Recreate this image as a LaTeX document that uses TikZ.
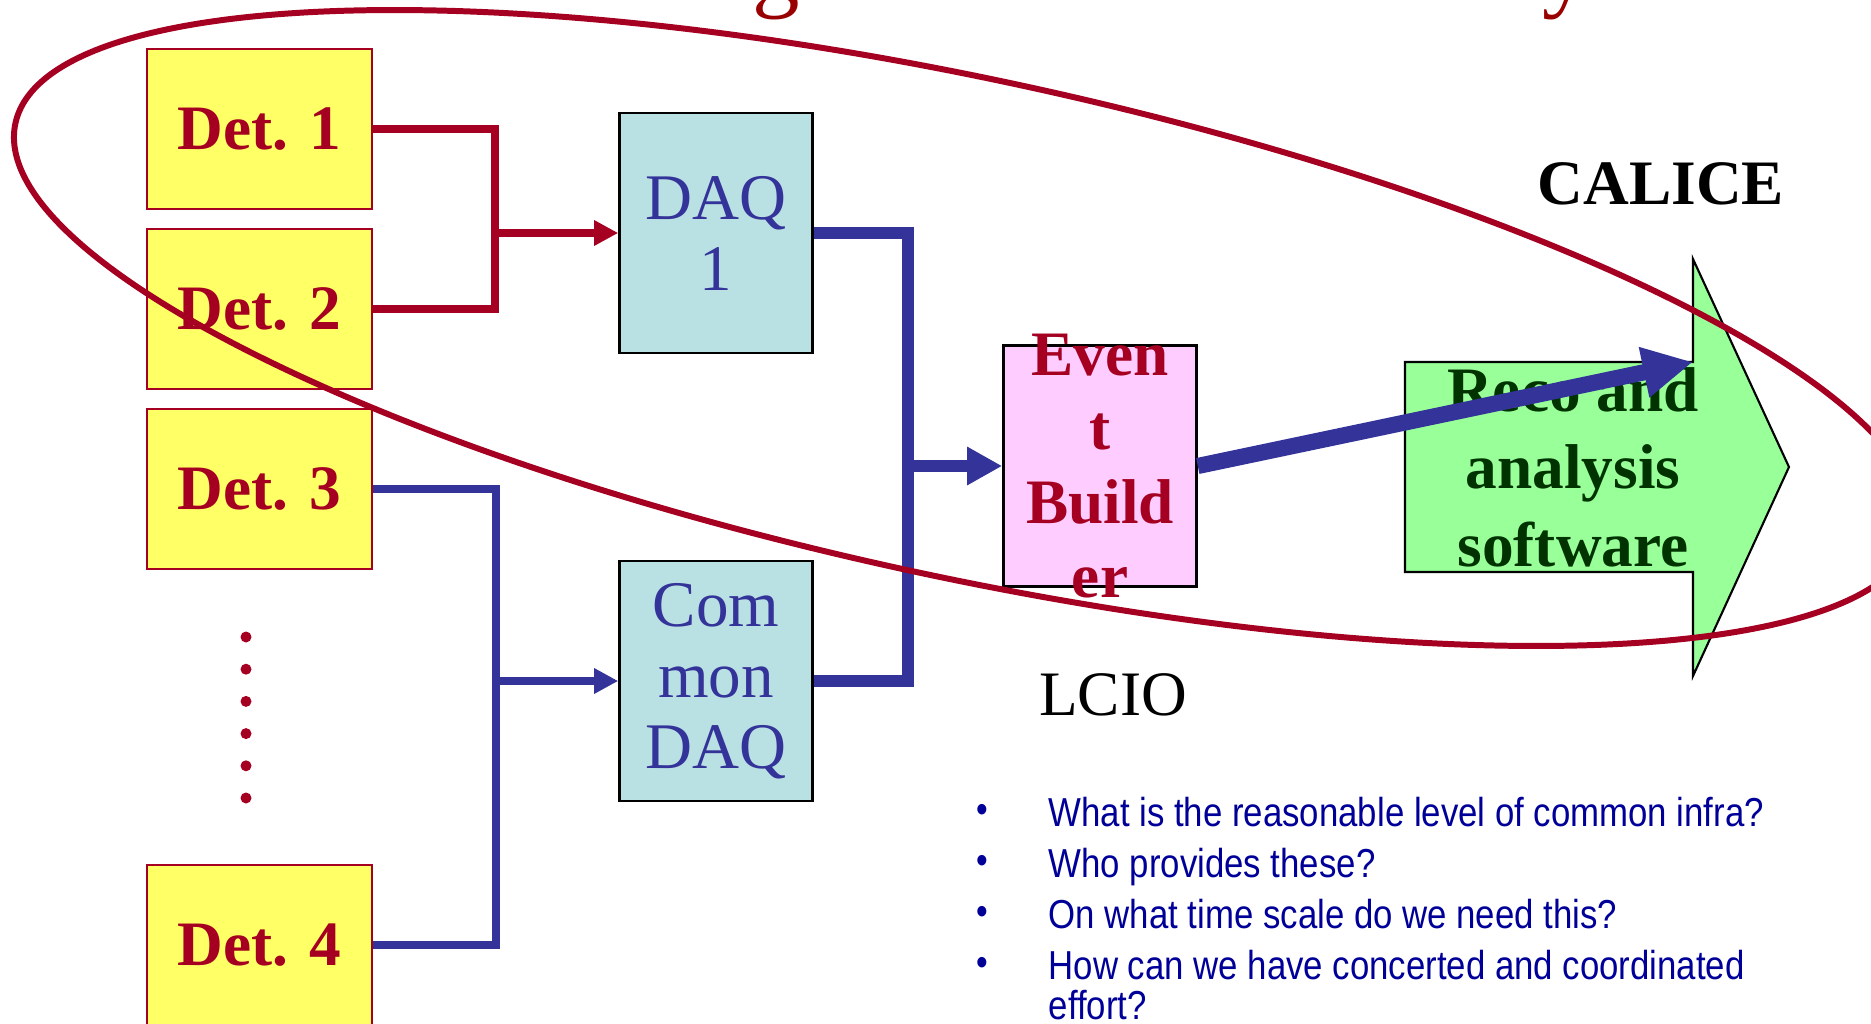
\documentclass[tikz,border=0pt]{standalone}
\usepackage{fontspec}
\setmainfont{Liberation Serif}
\newfontfamily\qfont[FakeStretch=0.86]{Liberation Sans}
\usetikzlibrary{arrows.meta}

\definecolor{detred}{HTML}{A50021}
\definecolor{detfill}{HTML}{FFFF66}
\definecolor{daqfill}{HTML}{B9E0E3}
\definecolor{daqblue}{HTML}{333399}
\definecolor{ebfill}{HTML}{FFCCFF}
\definecolor{swfill}{HTML}{99FF99}
\definecolor{swtext}{HTML}{003300}
\definecolor{qblue}{HTML}{000099}
\definecolor{titlered}{HTML}{990000}

\tikzset{
  detbox/.style={draw=detred, line width=0.6pt, fill=detfill, minimum width=2.25cm,
    minimum height=1.6cm, inner sep=0pt, text=detred, font=\fontsize{18}{21}\selectfont\bfseries},
  daqbox/.style={draw=black, line width=0.7pt, fill=daqfill, minimum width=1.93cm,
    minimum height=2.4cm, inner sep=0pt, text=daqblue, align=center,
    font=\fontsize{18.5}{20.2}\selectfont},
  ebbox/.style={draw=black, line width=0.7pt, fill=ebfill, minimum width=1.93cm,
    minimum height=2.41cm, inner sep=0pt},
  boldtext/.style={inner sep=0pt, align=center, font=\fontsize{18}{21}\selectfont\bfseries},
  redline/.style={draw=detred, line width=2pt},
  blueline/.style={draw=daqblue, line width=2pt},
  bluethick/.style={draw=daqblue, line width=3.4pt},
  qtext/.style={inner sep=0pt, anchor=base west, text=qblue, font=\qfont\fontsize{11.5}{11.4}\selectfont},
}

\begin{document}
\begin{tikzpicture}[x=0.01cm,y=-0.01cm]
  \useasboundingbox (0,0) rectangle (1871,1024);

  % title, cut off by the top edge
  \node[inner sep=0pt, anchor=base, text=titlered, font=\fontsize{27}{27}\selectfont] (tg) at (776,-1) {g};
  \node[inner sep=0pt, anchor=base, text=titlered, font=\fontsize{27}{27}\selectfont] (ty) at (1566,-1) {y};

  % detectors
  \node[detbox] (d1) at (259.5,129) {Det. 1};
  \node[detbox] (d2) at (259.5,309) {Det. 2};
  \node[detbox] (d3) at (259.5,489) {Det. 3};
  \node[detbox] (d4) at (259.5,945) {Det. 4};
  \foreach \i in {0,...,5}
    \fill[detred] (246,637+32.2*\i) circle [radius=5.5];

  % DAQ boxes
  \node[daqbox] (daq1) at (716,233) {DAQ\\1};
  \node[daqbox] (cdaq) at (716,681) {Com\\mon\\DAQ};

  \coordinate (jr) at (495,233);
  \coordinate (jb) at (496,681);
  \coordinate (jt) at (908,466);

  \draw[redline] (d1.east) -| (jr) |- (d2.east);
  \draw[redline, -{Triangle[length=0.24cm, width=0.24cm]}] (jr) -- (daq1.west);
  \draw[blueline] (d3.east) -| (jb) |- (d4.east);
  \draw[blueline, -{Triangle[length=0.24cm, width=0.24cm]}] (jb) -- (cdaq.west);

  % event builder
  \node[ebbox] (eb) at (1100,466) {};
  \node[boldtext, text=detred] (ebtext) at (eb.center) {Even\\t\\Build\\er};
  \draw[bluethick] (daq1.east) -| (jt) |- (cdaq.east);
  \draw[bluethick, -{Triangle[length=0.35cm, width=0.36cm]}] (jt) -- (eb.west);

  % reco software arrow
  \draw[fill=swfill, line width=0.6pt] (1405,362) -- (1693,362) -- (1693,259) -- (1789,467)
    -- (1693,676) -- (1693,572) -- (1405,572) -- cycle;
  \coordinate (swin) at (1693,362);
  \node[boldtext, text=swtext, font=\fontsize{18}{22}\selectfont\bfseries] (swtext) at (1573,467)
    {Reco and\\analysis\\software};
  \draw[draw=daqblue, line width=4.6pt, -{Triangle[length=0.5cm, width=0.48cm]}] (eb.east) -- (swin);

  \node[inner sep=0pt, anchor=base, font=\fontsize{18}{21}\selectfont\bfseries] (calice) at (1661,205) {CALICE};
  \node[inner sep=0pt, anchor=base, font=\fontsize{18}{21}\selectfont] (lcio) at (1113,715) {LCIO};

  % questions
  \foreach \y [count=\i] in {826,877,928,979}
    \node[inner sep=0pt, text=qblue, font=\qfont\fontsize{11}{11}\selectfont] (b\i) at (982,\y-13) {\textbullet};
  \node[qtext] (q1) at (1048,826) {What is the reasonable level of common infra?};
  \node[qtext] (q2) at (1048,877) {Who provides these?};
  \node[qtext] (q3) at (1048,928) {On what time scale do we need this?};
  \node[qtext] (q4) at (1048,979) {How can we have concerted and coordinated};
  \node[qtext] (q4b) at (1048,1019) {effort?};

  % scope ring
  \draw[detred, line width=1.7pt, rotate around={-12.16:(965.5,328)}]
    (965.5,328) ellipse [x radius=971.9, y radius=248.9];
\end{tikzpicture}
\end{document}
